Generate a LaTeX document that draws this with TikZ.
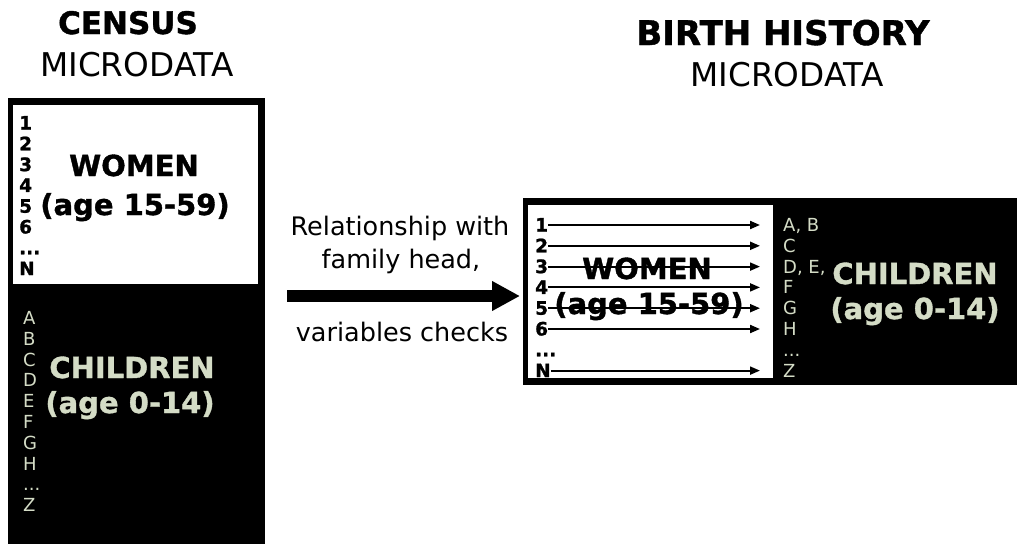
\documentclass[tikz,border=0pt]{standalone}
\usepackage{fontspec}
\setmainfont{DejaVu Sans}
\newfontfamily\heavy{DejaVu Sans Bold}[FakeBold=1.2]
\usetikzlibrary{arrows.meta}
\definecolor{kid}{RGB}{212,220,198}
\def\mydots{...}
\begin{document}
\begin{tikzpicture}[x=1pt,y=-1pt,
  title/.style={font=\fontsize{31}{31}\heavy, anchor=base, inner sep=0},
  subtitle/.style={font=\fontsize{32.7}{33}\selectfont, anchor=base, inner sep=0},
  big/.style={font=\fontsize{29}{29}\heavy, anchor=base, inner sep=0},
  kidbig/.style={big, text=kid},
  num/.style={font=\fontsize{18.5}{18.5}\heavy, anchor=base west, inner sep=0},
  let/.style={font=\fontsize{18}{18}\selectfont, text=kid, anchor=base west, inner sep=0},
  mid/.style={font=\fontsize{25.5}{26}\selectfont, anchor=base, inner sep=0},
  rowarrow/.style={line width=2pt, -{Triangle[length=10pt,width=8pt]}},
  bigarrow/.style={line width=12pt, -{Triangle[length=28pt,width=28pt]}}
]
\useasboundingbox (0,0) rectangle (1018,544);
% titles
\node[title] (t1) at (128,34) {CENSUS};
\node[subtitle] (t2) at (137,76) {MICRODATA};
\node[title, font=\fontsize{34}{34}\heavy] (t3) at (783,45) {BIRTH HISTORY};
\node[subtitle] (t4) at (787,86) {MICRODATA};
% left box
\fill[black] (8,98) rectangle (265,544);
\fill[white] (13,105) rectangle (258,284);
\foreach \t [count=\i] in {1,2,3,4,5,6,\mydots,N}
  \node[num] (ln\i) at (19,{129.5+20.8*(\i-1)}) {\t};
\foreach \t [count=\i] in {A,B,C,D,E,F,G,H,\mydots,Z}
  \node[let] (ll\i) at (23,{324.5+20.8*(\i-1)}) {\t};
\node[big] (lw1) at (134,176) {WOMEN};
\node[big] (lw2) at (135,215) {(age 15-59)};
\node[kidbig] (lc1) at (132,378) {CHILDREN};
\node[kidbig] (lc2) at (130,413) {(age 0-14)};
% middle
\node[mid] (m1) at (400,235) {Relationship with};
\node[mid] (m2) at (401,268) {family head,};
\node[mid] (m3) at (402,341) {variables checks};
\coordinate (bs) at (287,296);
\coordinate (be) at (520,296);
\draw[bigarrow] (bs) -- (be);
% right box
\fill[black] (523,198) rectangle (1017,385);
\fill[white] (528,205) rectangle (773,378);
\node[big] (rw1) at (647,279) {WOMEN};
\node[big] (rw2) at (649,314) {(age 15-59)};
\foreach \t [count=\i] in {1,2,3,4,5,6,\mydots,N}
  \node[num] (rn\i) at (535,{231.5+20.8*(\i-1)}) {\t};
\foreach \i in {1,2,3,4,5,6,8}
  \coordinate (re\i) at (760,{225+20.8*(\i-1)});
\foreach \i in {1,2,3,4,5,6,8}
  \draw[rowarrow] (rn\i.east |- re\i) -- (re\i);
\foreach \t [count=\i] in {{A, B},C,{D, E,},F,G,H,\mydots,Z}
  \node[let] (rl\i) at (783,{231.5+20.8*(\i-1)}) {\t};
\node[kidbig] (rc1) at (915,284) {CHILDREN};
\node[kidbig] (rc2) at (915,319) {(age 0-14)};
\end{tikzpicture}
\end{document}
